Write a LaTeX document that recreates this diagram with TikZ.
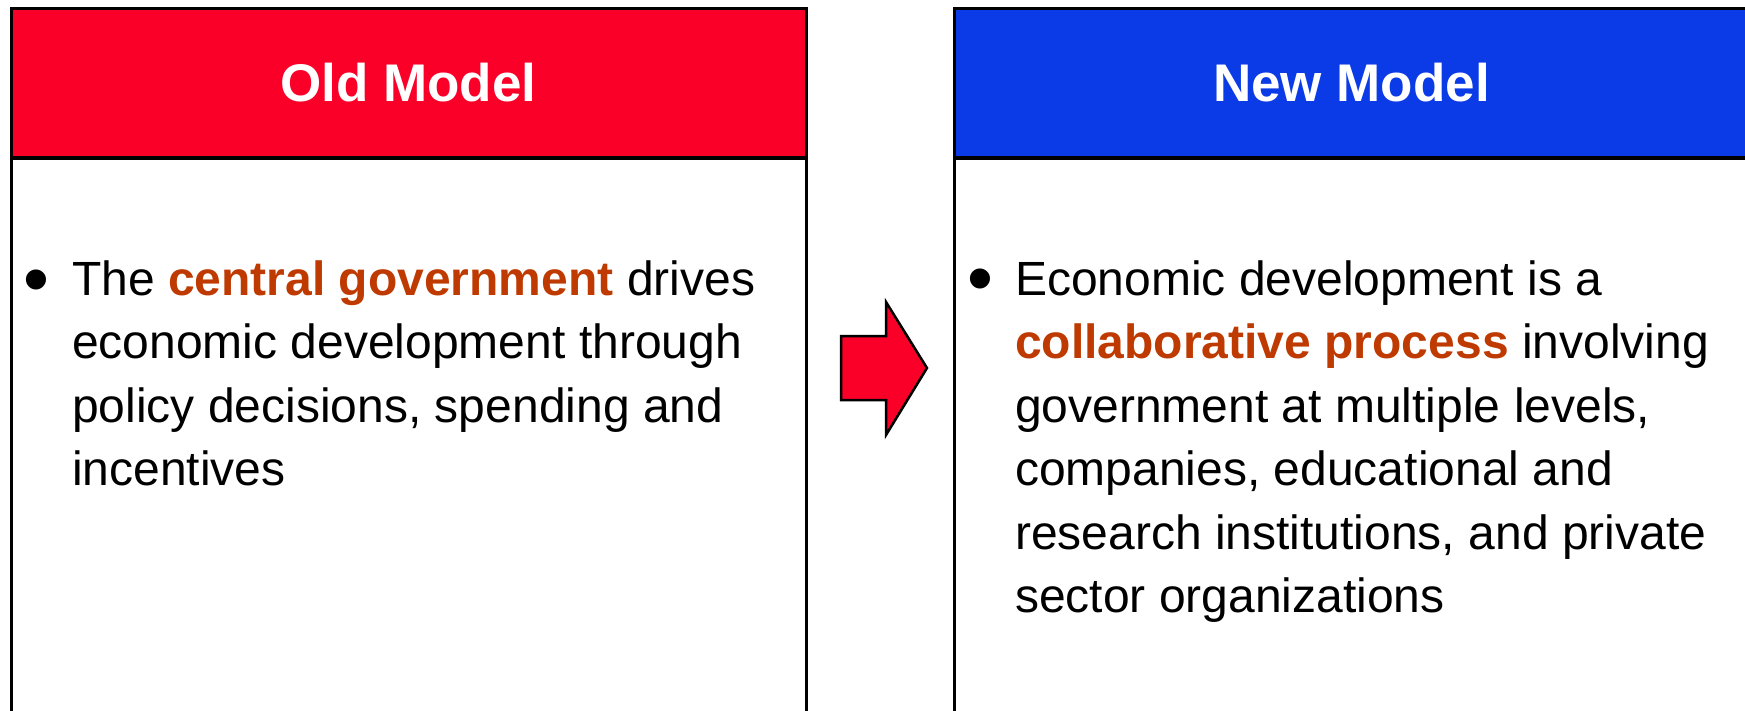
\documentclass[tikz,border=0pt]{standalone}
\usepackage{fontspec}
\setmainfont{Liberation Sans}
\definecolor{oldred}{HTML}{FA0028}
\definecolor{newblue}{HTML}{0A3BE6}
\definecolor{keyword}{HTML}{BF3A00}
\newcommand{\kw}[1]{\textcolor{keyword}{\bfseries #1}}
\newcommand{\bodytext}[1]{\vtop{\hsize=760pt\fontsize{48}{63.5}\selectfont\raggedright\noindent #1}}
\begin{document}
\begin{tikzpicture}[x=1pt,y=-1pt,
  frame/.style={draw=black, line width=3pt, inner sep=0pt},
  header/.style={frame, minimum width=795pt, minimum height=149pt,
    text=white, font=\fontsize{53}{60}\selectfont\bfseries},
  panel/.style={frame, fill=white, minimum width=795pt, minimum height=600pt, anchor=north},
  bullet/.style={anchor=base, inner sep=0pt, font=\fontsize{74}{80}\selectfont},
  bodynode/.style={anchor=base west, inner sep=0pt},
  bigarrow/.style={draw=black, line width=2.5pt, fill=oldred, line join=miter}]
  \clip (0,0) rectangle (1745,710);
  \fill[white] (0,0) rectangle (1745,710);

  % Old model column
  \node[panel] (oldpanel) at (408.5,157) {};
  \node[header, fill=oldred] (oldhead) at (408.5,82.5) {Old Model};
  \node[bullet] (oldbullet) at (36.5,304) {\textbullet};
  \node[bodynode] (oldtext) at (72,295) {\bodytext{The \kw{central government} drives\\
    economic development through\\
    policy decisions, spending and\\
    incentives}};

  % New model column
  \node[panel] (newpanel) at (1351.5,157) {};
  \node[header, fill=newblue] (newhead) at (1351.5,82.5) {New Model};
  \node[bullet] (newbullet) at (980.5,303) {\textbullet};
  \node[bodynode] (newtext) at (1015,295) {\bodytext{Economic development is a\\
    \kw{collaborative process} involving\\
    government at multiple levels,\\
    companies, educational and\\
    research institutions, and private\\
    sector organizations}};

  % Transition arrow between the columns
  \draw[bigarrow] (841,336) -- (886,336) -- (886,302) -- (927,368)
    -- (886,435) -- (886,400) -- (841,400) -- cycle;
\end{tikzpicture}
\end{document}
